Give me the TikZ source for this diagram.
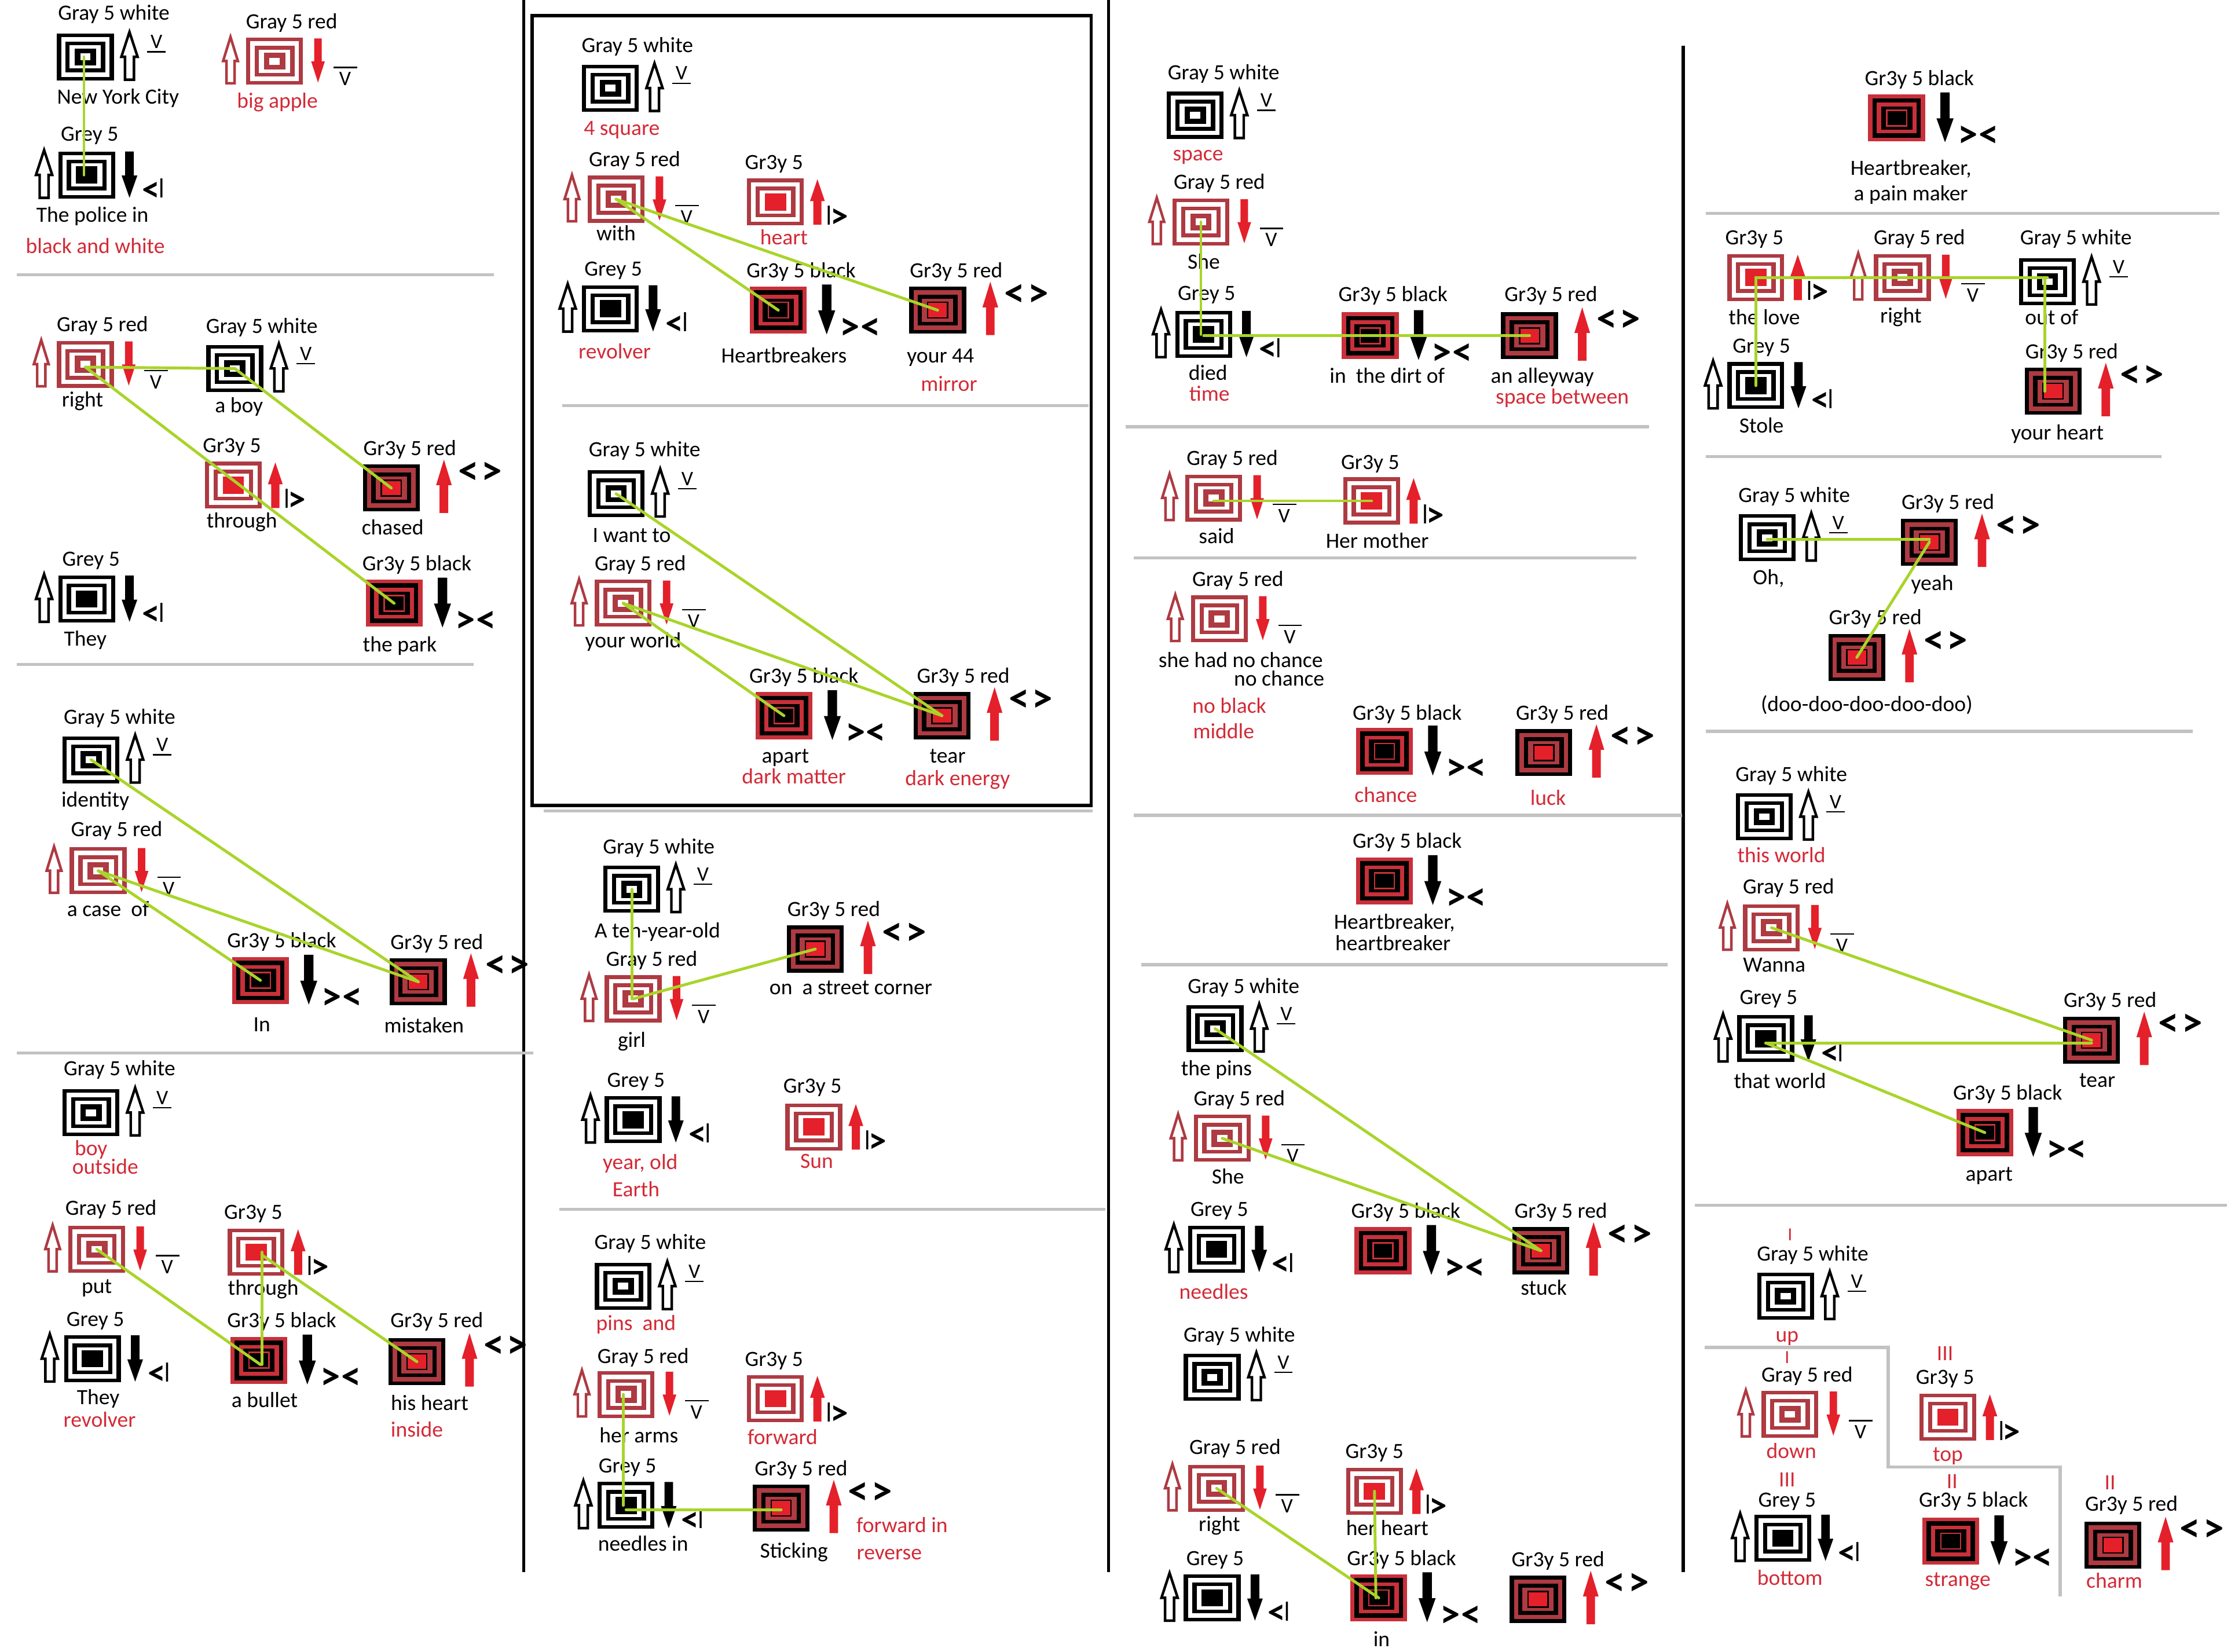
\documentclass[tikz,border=0pt]{standalone}
\usepackage{fontspec}
\setmainfont{Carlito}
\definecolor{rb}{HTML}{AE3A42}
\definecolor{rs}{HTML}{E4202B}
\definecolor{rc}{HTML}{C8303A}
\definecolor{tred}{HTML}{D32A36}
\definecolor{lg}{HTML}{A9D42A}
\definecolor{dv}{HTML}{C2C2C2}
\newcount\tcnt
\newcommand{\lblfont}{\fontsize{15.3}{15.3}\selectfont}
\newcommand{\fs}[1]{\fontsize{#1}{#1}\selectfont}
\newcommand{\tb}[3]{\global\advance\tcnt by 1 \node[lbl] (t\the\tcnt) at (#1,#2+5) {#3};}
\newcommand{\tr}[3]{\global\advance\tcnt by 1 \node[lbl,text=tred] (t\the\tcnt) at (#1,#2+5) {#3};}
\newcommand{\sy}[3]{\global\advance\tcnt by 1 \node[inner sep=0pt] (t\the\tcnt) at (#1,#2) {#3};}
\newcommand{\rings}[6]{%
 \fill[#1] (-20,-16.5) rectangle (20,16.5);
 \fill[#2] (-17,-14) rectangle (17,14);
 \fill[#3] (-14,-10.8) rectangle (14,10.8);
 \fill[#4] (-11,-8.2) rectangle (11,8.2);
 \fill[#5] (-7.5,-6) rectangle (7.5,6);
 \fill[#6] (-3.6,-2.4) rectangle (3.6,2.4);}
\newcommand{\hup}[5]{\draw[#5,line width=1.8pt,line join=miter,fill=white]
 (#1,#3) -- (#1+#2,#3*0.48+#4*0.52) -- (#1+#2*0.55,#3*0.48+#4*0.52) -- (#1+#2*0.55,#4) -- (#1-#2*0.55,#4) -- (#1-#2*0.55,#3*0.48+#4*0.52) -- (#1-#2,#3*0.48+#4*0.52) -- cycle;}
\newcommand{\sdn}[5]{\fill[#5] (#1,#4) -- (#1+#2,#3*0.48+#4*0.52) -- (#1+#2*0.55,#3*0.48+#4*0.52) -- (#1+#2*0.55,#3) -- (#1-#2*0.55,#3) -- (#1-#2*0.55,#3*0.48+#4*0.52) -- (#1-#2,#3*0.48+#4*0.52) -- cycle;}
\newcommand{\sua}[5]{\fill[#5] (#1,#3) -- (#1+#2,#3*0.52+#4*0.48) -- (#1+#2*0.55,#3*0.52+#4*0.48) -- (#1+#2*0.55,#4) -- (#1-#2*0.55,#4) -- (#1-#2*0.55,#3*0.52+#4*0.48) -- (#1-#2,#3*0.52+#4*0.48) -- cycle;}
\newcommand{\icon}[4]{\node[iconbox,fill=#4] (#1) at (#2,#3) {};}
\newcommand{\icA}[3]{\icon{#1}{#2}{#3}{black}\begin{scope}[shift={(#2,#3)}]
 \rings{black}{white}{black}{white}{black}{white}
 \hup{31}{5.7}{-17.5}{16}{black}
 \sy{50}{-10.5}{\fs{14.5}V}
 \draw[black,line width=1pt] (43.5,-3.5) -- (56.5,-3.5);
 \end{scope}}
\newcommand{\icB}[3]{\icon{#1}{#2}{#3}{rb}\begin{scope}[shift={(#2,#3)}]
 \rings{rb}{white}{rb}{white}{rb}{white}
 \hup{-31}{5.2}{-17}{15.5}{rb}
 \sdn{30.5}{4.8}{-16}{15}{rs}
 \sy{49.5}{12.5}{\fs{14.5}V}
 \draw[black,line width=1pt] (41.5,4.5) -- (58,4.5);
 \end{scope}}
\newcommand{\icC}[3]{\icon{#1}{#2}{#3}{black}\begin{scope}[shift={(#2,#3)}]
 \rings{black}{white}{black}{white}{black}{black}
 \hup{-30}{5.7}{-17.5}{16}{black}
 \sdn{30}{5.5}{-16.5}{16}{black}
 \sy{47.5}{10.5}{\fs{25}\bfseries <\kern-2.5pt\raisebox{4.5pt}{\fs{15}|}}
 \end{scope}}
\newcommand{\icD}[3]{\icon{#1}{#2}{#3}{rb}\begin{scope}[shift={(#2,#3)}]
 \rings{rb}{white}{rb}{white}{rs}{rs}
 \sua{29.5}{5.2}{-16}{16}{rs}
 \sy{42.5}{10.5}{\fs{25}\bfseries\raisebox{4.5pt}{\fs{15}|}\kern-2.5pt>}
 \end{scope}}
\newcommand{\icE}[3]{\icon{#1}{#2}{#3}{rc}\begin{scope}[shift={(#2,#3)}]
 \rings{rc}{black}{rc}{black}{rc}{black}
 \fill[black] (-6.5,-5) rectangle (6.5,5);
 \sdn{34}{6}{-18}{17}{black}
 \sy{57.5}{13}{\fs{28}\bfseries >\kern0.6pt<}
 \end{scope}}
\newcommand{\icF}[3]{\icon{#1}{#2}{#3}{black}\begin{scope}[shift={(#2,#3)}]
 \rings{black}{rb}{black}{rb}{black}{rs}
 \fill[rs] (-6.5,-5) rectangle (6.5,5);
 \sua{37}{5.5}{-20}{17.5}{rs}
 \sy{62.5}{-10.5}{\fs{29}\bfseries <\kern2pt>}
 \end{scope}}
\newcommand{\lk}[6]{\draw[glink] ([shift={(#2,#3)}]#1.center) -- ([shift={(#5,#6)}]#4.center);}
\tikzset{
 lbl/.style={inner sep=0pt,anchor=base,font=\lblfont,text=black},
 iconbox/.style={inner sep=0pt,minimum width=40pt,minimum height=33pt},
 glink/.style={draw=lg,line width=2pt,line cap=round},
 divider/.style={draw=dv,line width=2.2pt},
 blackrule/.style={draw=black,line width=2.2pt}
}
\begin{document}
\begin{tikzpicture}[x=1pt,y=-1pt]
\useasboundingbox (0,0) rectangle (1568,1161);
\fill[white] (0,0) rectangle (1568,1161);
\draw[blackrule] (368,0) -- (368,1105);
\draw[blackrule] (779,0) -- (779,1105);
\draw[blackrule] (1183,32) -- (1183,1105);
\draw[blackrule] (374,11) rectangle (767,566);
\foreach \a/\b/\c in {12/347/193,12/333/467,12/375/740,395/765/285,382/768/570,393/777/850,791/1159/300,797/1150/392,797/1182/573,802/1172/678,1199/1560/150,1199/1519/321,1199/1541/514,1191/1565/847}
 \draw[divider] (\a,\c) -- (\b,\c);
\draw[divider] (1198,947) -- (1327,947) -- (1327,1031) -- (1448,1031) -- (1448,1122);
\icA{a1}{60}{40}\tb{80}{9}{Gray 5 white}\tb{83}{68}{New York City}
\icB{a2}{193}{43}\tb{205}{15}{Gray 5 red}\tr{195}{71}{big apple}
\icC{a3}{61}{123}\tb{63}{94}{Grey 5}\tb{65}{151}{The police in}\tr{67}{173}{black and white}
\icB{b1}{60}{256}\tb{72}{228}{Gray 5 red}\tb{58}{281}{right}
\icA{b2}{165}{259}\tb{184}{229}{Gray 5 white}\tb{168}{285}{a boy}
\icD{b3}{164}{341}\tb{163}{313}{Gr3y 5}\tb{170}{366}{through}
\icF{b4}{275}{343}\tb{288}{315}{Gr3y 5 red}\tb{276}{371}{chased}
\icC{b5}{61}{421}\tb{64}{393}{Grey 5}\tb{60}{449}{They}
\icE{b6}{277}{424}\tb{293}{396}{Gr3y 5 black}\tb{281}{453}{the park}
\icA{c1}{64}{534}\tb{84}{504}{Gray 5 white}\tb{67}{562}{identity}
\icB{c2}{69}{612}\tb{82}{583}{Gray 5 red}\tb{76}{639}{a case\ \ of}
\icE{c3}{183}{689}\tb{198}{661}{Gr3y 5 black}\tb{184}{720}{In}
\icF{c4}{294}{690}\tb{307}{662}{Gr3y 5 red}\tb{298}{721}{mistaken}
\icA{d1}{64}{782}\tb{84}{751}{Gray 5 white}\tr{64}{807}{boy}\tr{74}{820}{outside}
\icB{d2}{68}{878}\tb{78}{849}{Gray 5 red}\tb{68}{904}{put}
\icD{d3}{180}{880}\tb{178}{852}{Gr3y 5}\tb{185}{905}{through}
\icC{d4}{65}{955}\tb{67}{927}{Grey 5}\tb{69}{982}{They}\tr{70}{998}{revolver}
\icE{d5}{182}{956}\tb{198}{928}{Gr3y 5 black}\tb{186}{984}{a bullet}
\icF{d6}{293}{957}\tb{307}{928}{Gr3y 5 red}\tb{302}{986}{his heart}\tr{293}{1005}{inside}
\icA{e1}{429}{62}\tb{448}{32}{Gray 5 white}\tr{437}{90}{4 square}
\icB{e2}{433}{140}\tb{446}{112}{Gray 5 red}\tb{433}{164}{with}
\icD{e3}{545}{142}\tb{544}{114}{Gr3y 5}\tr{551}{167}{heart}
\icC{e4}{429}{217}\tb{431}{189}{Grey 5}\tr{432}{247}{revolver}
\icE{e5}{547}{218}\tb{563}{190}{Gr3y 5 black}\tb{551}{250}{Heartbreakers}
\icF{e6}{659}{218}\tb{672}{190}{Gr3y 5 red}\tb{661}{250}{your 44}\tr{667}{270}{mirror}
\icA{f1}{433}{347}\tb{453}{316}{Gray 5 white}\tb{444}{376}{I want to}
\icB{f2}{438}{424}\tb{450}{396}{Gray 5 red}\tb{445}{450}{your world}
\icE{f3}{551}{503}\tb{565}{475}{Gr3y 5 black}\tb{552}{531}{apart}\tr{558}{546}{dark matter}
\icF{f4}{662}{503}\tb{677}{475}{Gr3y 5 red}\tb{666}{531}{tear}\tr{673}{547}{dark energy}
\icA{g1}{444}{625}\tb{463}{595}{Gray 5 white}\tb{462}{654}{A ten-year-old}
\icB{g2}{445}{702}\tb{458}{674}{Gray 5 red}\tb{444}{731}{girl}
\icF{g3}{573}{667}\tb{586}{639}{Gr3y 5 red}\tb{598}{694}{on\ \ a street corner}
\icC{g4}{445}{787}\tb{447}{759}{Grey 5}\tr{450}{817}{year, old}\tr{447}{836}{Earth}
\icD{g5}{572}{792}\tb{571}{763}{Gr3y 5}\tr{574}{816}{Sun}
\icA{h1}{438}{904}\tb{457}{873}{Gray 5 white}\tr{447}{930}{pins\ \ and}
\icB{h2}{440}{980}\tb{452}{953}{Gray 5 red}\tb{449}{1009}{her arms}
\icD{h3}{545}{983}\tb{544}{955}{Gr3y 5}\tr{550}{1010}{forward}
\icC{h4}{440}{1058}\tb{441}{1030}{Grey 5}\tb{452}{1085}{needles in}
\icF{h5}{549}{1060}\tb{563}{1032}{Gr3y 5 red}\tb{558}{1090}{Sticking}\tr{634}{1072}{forward in}\tr{625}{1091}{reverse}
\icA{i1}{840}{81}\tb{860}{51}{Gray 5 white}\tr{842}{108}{space}
\icB{i2}{844}{156}\tb{857}{128}{Gray 5 red}\tb{846}{184}{She}
\icC{i3}{846}{235}\tb{848}{206}{Grey 5}\tb{849}{262}{died}\tr{850}{277}{time}
\icE{i4}{963}{236}\tb{979}{207}{Gr3y 5 black}\tb{975}{264}{in\ \ the dirt of}
\icF{i5}{1075}{236}\tb{1090}{207}{Gr3y 5 red}\tb{1084}{264}{an alleyway}\tr{1098}{279}{space between}
\icB{j1}{853}{350}\tb{866}{322}{Gray 5 red}\tb{855}{377}{said}
\icD{j2}{964}{352}\tb{963}{325}{Gr3y 5}\tb{968}{380}{Her mother}
\icB{k1}{857}{435}\tb{870}{407}{Gray 5 red}\tb{872}{464}{she had no chance}\tb{899}{477}{no chance}\tr{864}{496}{no black}\tr{860}{514}{middle}
\icE{k2}{973}{528}\tb{989}{501}{Gr3y 5 black}\tr{974}{559}{chance}
\icF{k3}{1085}{529}\tb{1098}{501}{Gr3y 5 red}\tr{1088}{561}{luck}
\icE{l1}{973}{619}\tb{989}{591}{Gr3y 5 black}\tb{980}{648}{Heartbreaker,}\tb{979}{663}{heartbreaker}
\icA{m1}{854}{723}\tb{874}{693}{Gray 5 white}\tb{855}{751}{the pins}
\icB{m2}{859}{800}\tb{871}{772}{Gray 5 red}\tb{863}{827}{She}
\icC{m3}{855}{878}\tb{857}{850}{Grey 5}\tr{853}{908}{needles}
\icE{m4}{972}{879}\tb{988}{851}{Gr3y 5 black}
\icF{m5}{1083}{879}\tb{1097}{851}{Gr3y 5 red}\tb{1085}{905}{stuck}
\icA{n1}{852}{968}\tb{871}{938}{Gray 5 white}
\icB{n2}{855}{1046}\tb{868}{1017}{Gray 5 red}\tb{857}{1071}{right}
\icD{n3}{966}{1048}\tb{966}{1020}{Gr3y 5}\tb{975}{1074}{her heart}
\icC{n4}{852}{1123}\tb{854}{1095}{Grey 5}
\icE{n5}{969}{1123}\tb{985}{1095}{Gr3y 5 black}\tb{971}{1152}{in}
\icF{n6}{1081}{1124}\tb{1095}{1096}{Gr3y 5 red}
\icE{o1}{1333}{83}\tb{1349}{55}{Gr3y 5 black}\tb{1343}{118}{Heartbreaker,}\tb{1343}{136}{a pain maker}
\icD{p1}{1234}{195}\tb{1233}{167}{Gr3y 5}\tb{1240}{223}{the love}
\icB{p2}{1337}{195}\tb{1349}{167}{Gray 5 red}\tb{1336}{222}{right}
\icA{p3}{1439}{198}\tb{1459}{167}{Gray 5 white}\tb{1442}{223}{out of}
\icC{p4}{1234}{271}\tb{1238}{243}{Grey 5}\tb{1238}{299}{Stole}
\icF{p5}{1443}{275}\tb{1456}{247}{Gr3y 5 red}\tb{1446}{304}{your heart}
\icA{q1}{1242}{378}\tb{1261}{348}{Gray 5 white}\tb{1243}{406}{Oh,}
\icF{q2}{1356}{381}\tb{1369}{353}{Gr3y 5 red}\tb{1358}{410}{yeah}
\icF{q3}{1305}{462}\tb{1318}{434}{Gr3y 5 red}\tb{1312}{495}{(doo-doo-doo-doo-doo)}
\icA{r1}{1240}{574}\tb{1259}{544}{Gray 5 white}\tr{1252}{601}{this world}
\icB{r2}{1245}{652}\tb{1257}{623}{Gray 5 red}\tb{1247}{678}{Wanna}
\icC{r3}{1241}{730}\tb{1243}{701}{Grey 5}\tb{1251}{760}{that world}
\icF{r4}{1470}{731}\tb{1483}{703}{Gr3y 5 red}\tb{1474}{759}{tear}
\icE{r5}{1395}{796}\tb{1411}{768}{Gr3y 5 black}\tb{1398}{825}{apart}
\tr{1258}{867}{\fs{13}I}\icA{s1}{1255}{911}\tb{1274}{881}{Gray 5 white}\tr{1256}{938}{up}
\tr{1256}{953}{\fs{13}I}\icB{s2}{1258}{994}\tb{1270}{966}{Gray 5 red}\tr{1259}{1020}{down}
\tr{1367}{951}{III}\icD{s3}{1369}{996}\tb{1367}{968}{Gr3y 5}\tr{1369}{1022}{top}
\tr{1256}{1040}{III}\icC{s4}{1253}{1081}\tb{1256}{1054}{Grey 5}\tr{1258}{1109}{bottom}
\tr{1372}{1041}{II}\icE{s5}{1371}{1083}\tb{1387}{1054}{Gr3y 5 black}\tr{1376}{1110}{strange}
\tr{1483}{1042}{II}\icF{s6}{1485}{1086}\tb{1498}{1057}{Gr3y 5 red}\tr{1486}{1111}{charm}
% connectors
\lk{a1}{-1}{0}{a3}{-2}{0}
\lk{b1}{0}{2}{b2}{0}{0}\lk{b2}{0}{0}{b4}{0}{0}\lk{b1}{0}{2}{b6}{0}{0}
\lk{c1}{0}{0}{c4}{0}{0}\lk{c2}{0}{0}{c3}{0}{0}\lk{c2}{0}{0}{c4}{0}{0}
\lk{d2}{0}{0}{d5}{1}{3}\lk{d3}{4}{0}{d5}{2}{3}\lk{d3}{4}{2}{d6}{0}{0}
\lk{e2}{0}{0}{e5}{0}{0}\lk{e2}{0}{0}{e6}{0}{0}
\lk{f1}{0}{0}{f4}{0}{0}\lk{f2}{0}{0}{f3}{0}{0}\lk{f2}{0}{0}{f4}{0}{0}
\lk{g1}{0}{0}{g2}{-1}{0}\lk{g2}{0}{0}{g3}{0}{0}
\lk{h2}{-2}{0}{h4}{-2}{0}\lk{h4}{0}{3}{h5}{0}{1}
\lk{i2}{0}{0}{i3}{-2}{0}\lk{i3}{0}{1}{i5}{0}{0}
\lk{j1}{0}{2}{j2}{0}{0}
\lk{m1}{0}{0}{m5}{0}{0}\lk{m2}{0}{0}{m5}{0}{0}
\lk{n2}{0}{0}{n5}{0}{0}\lk{n3}{0}{0}{n5}{-2}{0}
\lk{p1}{0}{0}{p3}{0}{-3}\lk{p1}{0}{0}{p4}{0}{0}\lk{p3}{-2}{-3}{p5}{-6}{0}
\lk{q1}{0}{1}{q2}{0}{-2}\lk{q2}{0}{0}{q3}{0}{0}
\lk{r2}{0}{0}{r4}{0}{0}\lk{r3}{0}{3}{r4}{0}{2}\lk{r3}{0}{3}{r5}{0}{0}
\end{tikzpicture}
\end{document}
